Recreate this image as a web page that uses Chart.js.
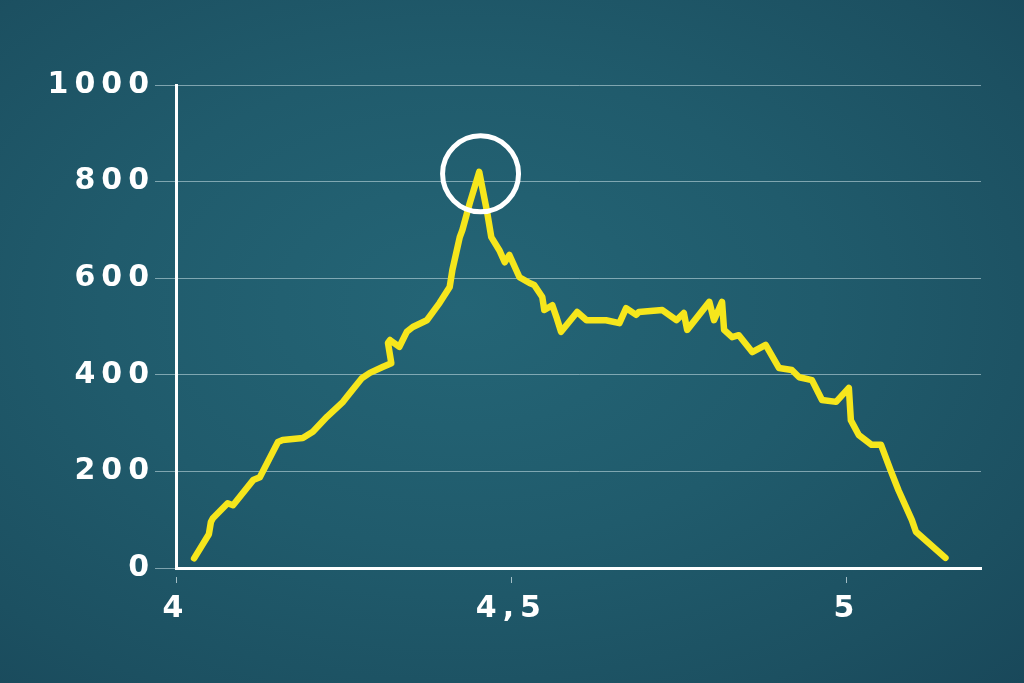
<!DOCTYPE html>
<html>
<head>
<meta charset="utf-8">
<script src="https://cdn.jsdelivr.net/npm/chart.js@4/dist/chart.umd.min.js"></script>
<style>
  html, body { margin: 0; padding: 0; width: 1024px; height: 683px; overflow: hidden; }
  body {
    background:
      radial-gradient(ellipse at 45% 45%, #246576 0%, #205b6c 45%, #1c5061 80%, #19485a 100%);
  }
  #wrap { position: relative; width: 1024px; height: 683px; }
</style>
</head>
<body>
<div id="wrap"><canvas id="c" width="1024" height="683"></canvas></div>
<script>
// ── Data ──────────────────────────────────────────────
const xValues = [
  4.027, 4.049, 4.052, 4.055, 4.077, 4.085, 4.115, 4.125, 4.152, 4.159,
  4.189, 4.204, 4.225, 4.249, 4.259, 4.277, 4.289, 4.308, 4.321, 4.316,
  4.319, 4.333, 4.344, 4.353, 4.374, 4.393, 4.408, 4.412, 4.423, 4.427,
  4.438, 4.452, 4.464, 4.470, 4.482, 4.490, 4.497, 4.512, 4.527, 4.534,
  4.546, 4.549, 4.561, 4.567, 4.574, 4.598, 4.612, 4.641, 4.661, 4.671,
  4.686, 4.690, 4.725, 4.746, 4.757, 4.762, 4.795, 4.802, 4.814, 4.817,
  4.829, 4.839, 4.859, 4.879, 4.899, 4.918, 4.929, 4.948, 4.963, 4.984,
  5.003, 5.006, 5.018, 5.037, 5.051, 5.065, 5.077, 5.097, 5.103, 5.147
];
const yValues = [
  20, 70, 95, 103, 134, 130, 182, 188, 261, 265,
  269, 282, 313, 344, 362, 393, 404, 416, 424, 466,
  472, 458, 489, 499, 513, 549, 582, 617, 685, 700,
  756, 820, 735, 685, 658, 633, 648, 602, 590, 586,
  561, 534, 544, 520, 489, 530, 513, 513, 507, 538,
  524, 530, 534, 513, 528, 493, 551, 513, 551, 493,
  478, 482, 447, 462, 414, 410, 395, 389, 348, 344,
  373, 306, 275, 255, 255, 203, 161, 99, 75, 21
];
const peakMark = { x: 4.454, y: 816 };
const yTicks = [0, 200, 400, 600, 800, 1000];
const xTicks = [4, 4.5, 5];

const FONT = '"DejaVu Sans", "Liberation Sans", sans-serif';

// letter spacing for the wide tick labels
const spacingPlugin = {
  id: 'spacing',
  beforeDraw(chart) { chart.ctx.letterSpacing = '6px'; }
};

new Chart(document.getElementById('c'), {
  type: 'line',
  data: {
    datasets: [
      {
        type: 'scatter',
        data: [peakMark],
        pointRadius: 38,
        pointHoverRadius: 38,
        pointBorderWidth: 5,
        pointBorderColor: '#ffffff',
        pointBackgroundColor: 'rgba(0,0,0,0)',
        clip: false
      },
      {
        data: xValues.map((x, i) => ({ x, y: yValues[i] })),
        borderColor: '#f6e61c',
        borderWidth: 6.5,
        borderJoinStyle: 'round',
        borderCapStyle: 'round',
        pointRadius: 0,
        tension: 0,
        fill: false
      }
    ]
  },
  options: {
    responsive: false,
    devicePixelRatio: 1,
    animation: false,
    events: [],
    layout: { padding: { top: 85, right: 42, bottom: 0, left: 0 } },
    plugins: { legend: { display: false }, tooltip: { enabled: false } },
    scales: {
      x: {
        type: 'linear',
        min: 4, max: 5.2,
        afterBuildTicks: s => { s.ticks = xTicks.map(v => ({ value: v })); },
        afterFit: s => { s.height = 115; },
        border: { display: true, color: '#ffffff', width: 3 },
        grid: {
          drawOnChartArea: false,
          drawTicks: true,
          tickLength: 15,
          tickColor: 'rgba(220,235,240,0.7)',
          tickWidth: 1,
          tickBorderDash: [0, 7, 8, 0]
        },
        ticks: {
          color: '#ffffff',
          font: { family: FONT, size: 30, weight: 'bold' },
          padding: 8,
          maxRotation: 0,
          callback: v => String(v).replace('.', ',')
        }
      },
      y: {
        min: 0, max: 1000,
        afterBuildTicks: s => { s.ticks = yTicks.map(v => ({ value: v })); },
        afterFit: s => { s.width = 176; },
        border: { display: true, color: '#ffffff', width: 3 },
        grid: {
          color: 'rgba(205,228,234,0.55)',
          lineWidth: 1,
          drawTicks: true,
          tickLength: 21,
          tickColor: 'rgba(205,228,234,0.55)'
        },
        ticks: {
          color: '#ffffff',
          font: { family: FONT, size: 30, weight: 'bold' },
          padding: 0,
          callback: v => String(v)
        }
      }
    }
  },
  plugins: [spacingPlugin]
});
</script>
</body>
</html>
